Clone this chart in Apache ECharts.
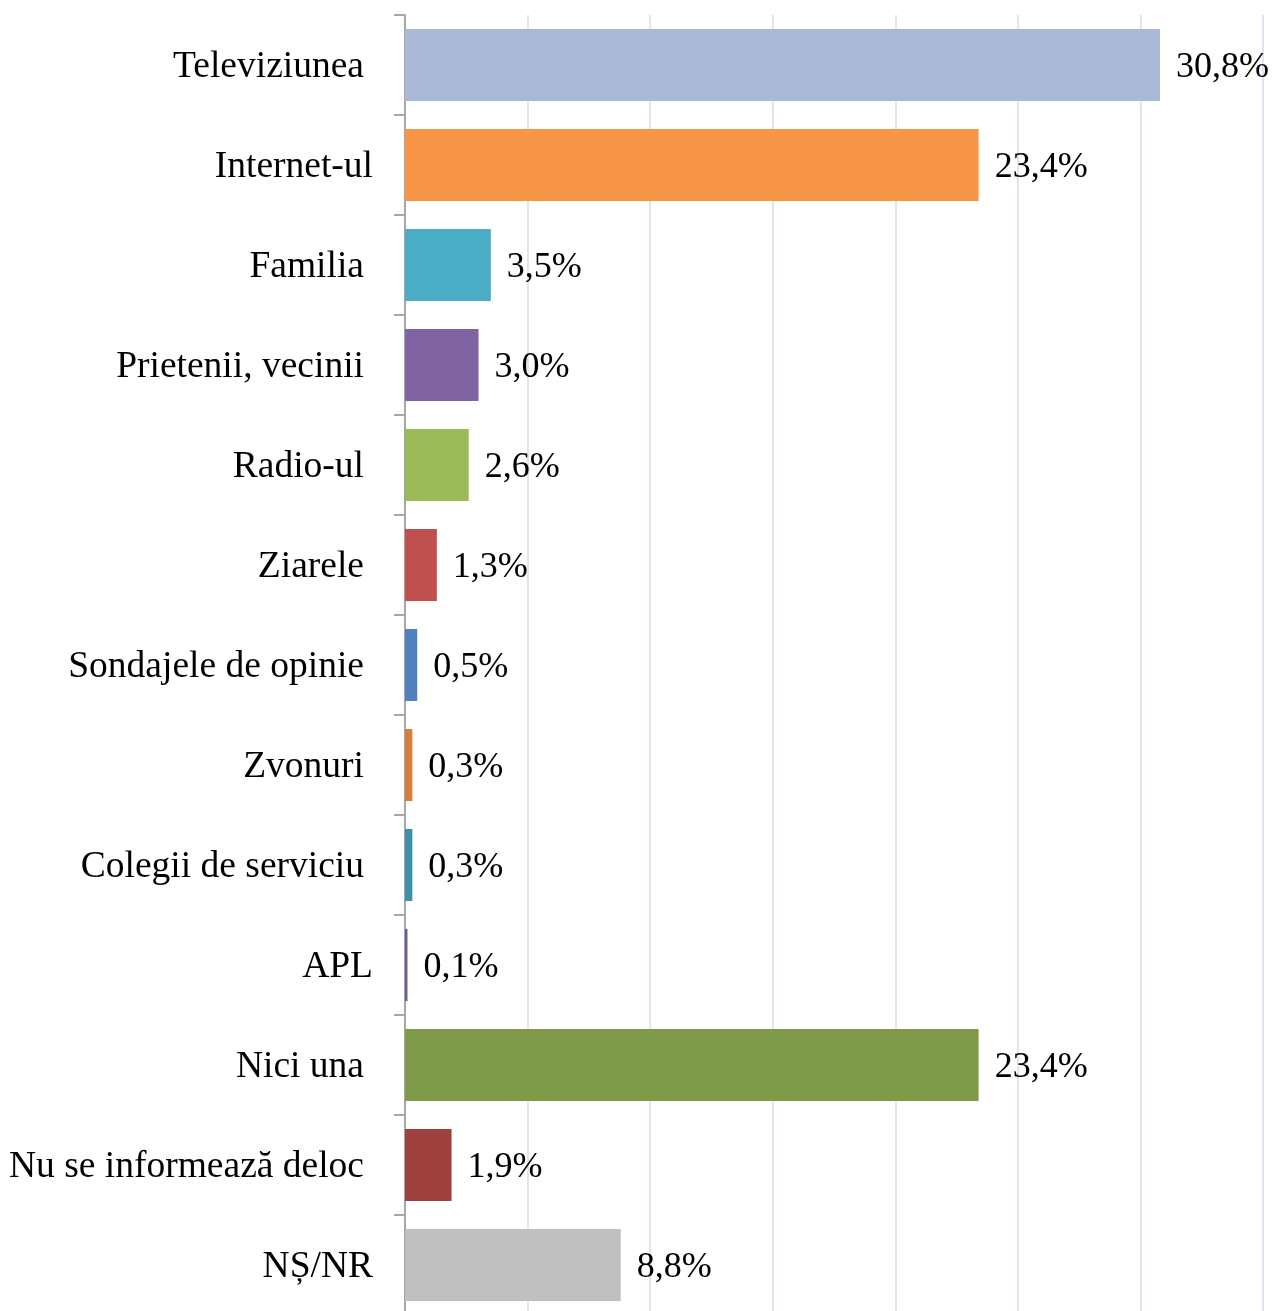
<!DOCTYPE html>
<html>
<head>
<meta charset="utf-8">
<script src="https://cdn.jsdelivr.net/npm/echarts@6/dist/echarts.min.js"></script>
<style>html,body{margin:0;padding:0;background:#fff;overflow:hidden}#c{width:1274px;height:1315px}</style>
</head>
<body>
<div id="c"></div>
<script>
const categories = ["Televiziunea","Internet-ul","Familia","Prietenii, vecinii","Radio-ul","Ziarele","Sondajele de opinie","Zvonuri","Colegii de serviciu","APL","Nici una","Nu se informează deloc","NȘ/NR"];
const values = [30.8, 23.4, 3.5, 3.0, 2.6, 1.3, 0.5, 0.3, 0.3, 0.1, 23.4, 1.9, 8.8];
const colors = ["#A9B9D6","#F79646","#4BACC6","#8064A2","#9BBB59","#C0504D","#4F81BD","#D0803C","#3F8FA6","#6E5892","#7F9B4A","#9E413E","#BFBFBF"];
const wideLabels = ["Internet-ul","APL","NȘ/NR"];

const chart = echarts.init(document.getElementById('c'));
const font = '"Liberation Serif","Times New Roman",serif';
chart.setOption({
  animation: false,
  grid: { left: 405, right: 11, top: 15, bottom: 0, containLabel: false },
  xAxis: {
    type: 'value', min: 0, max: 35, interval: 5,
    axisLabel: { show: false }, axisLine: { show: false }, axisTick: { show: false },
    splitLine: { show: true, lineStyle: { color: '#DCE6F2', width: 2 } }
  },
  yAxis: {
    type: 'category', data: categories, inverse: true,
    axisLine: { show: true, lineStyle: { color: '#A6A6A6', width: 2 } },
    axisTick: { show: true, length: 11, lineStyle: { color: '#A6A6A6', width: 2 } },
    axisLabel: {
      margin: 32, color: '#000', fontFamily: font, fontSize: 37.5,
      formatter: v => wideLabels.includes(v) ? '{w|' + v + '}' : '{n|' + v + '}',
      rich: {
        w: { fontFamily: font, fontSize: 37.5, color: '#000', padding: [5, 0, 0, 0] },
        n: { fontFamily: font, fontSize: 37.5, color: '#000', padding: [5, 9, 0, 0] }
      }
    }
  },
  series: [{
    type: 'bar',
    data: values.map((v, i) => ({ value: v, itemStyle: { color: colors[i] } })),
    barCategoryGap: '28%',
    label: {
      show: true, position: 'right', distance: 16, color: '#000',
      fontFamily: font, fontSize: 36, offset: [0, 3],
      formatter: p => p.value.toFixed(1).replace('.', ',') + '%'
    }
  }]
});
</script>
</body>
</html>
